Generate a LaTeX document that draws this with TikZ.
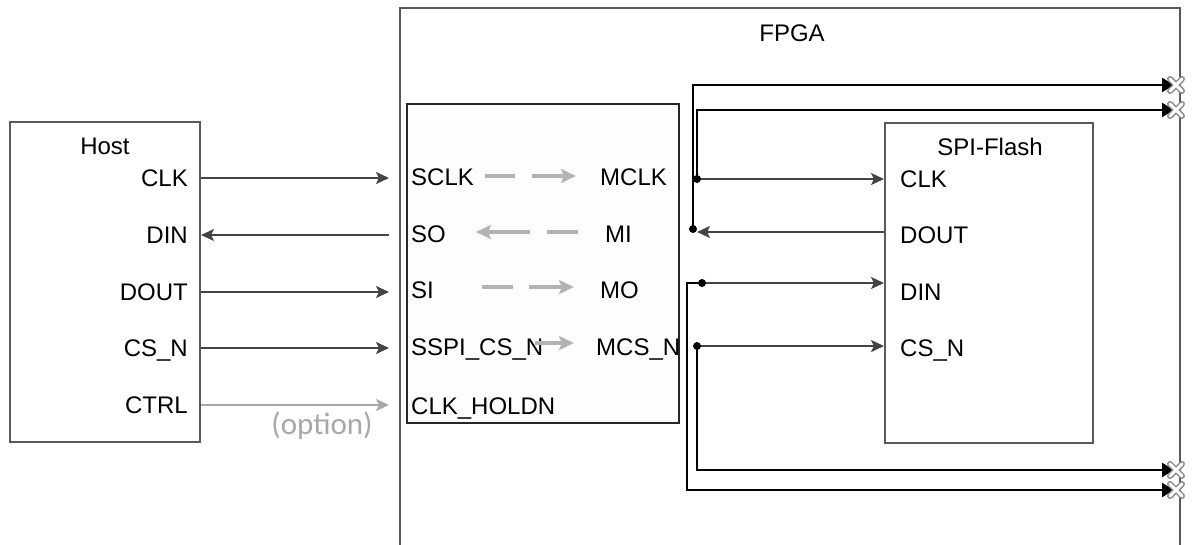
\documentclass[tikz,border=0pt]{standalone}
\usepackage{fontspec}
\setmainfont{Liberation Sans}
\newfontfamily\optfont{Carlito}
\usetikzlibrary{arrows.meta}
\definecolor{boxgray}{HTML}{5A5A5A}
\definecolor{wiregray}{HTML}{444444}
\definecolor{lightarrow}{HTML}{B3B3B3}
\definecolor{ctrlgray}{HTML}{A8A8A8}
\definecolor{pingray}{HTML}{8C8C8C}
\definecolor{innerfill}{HTML}{FDFDFD}
\begin{document}
\begin{tikzpicture}[x=1pt,y=-1pt,
  font=\fontsize{24}{28}\selectfont,
  box/.style={draw=boxgray,line width=2pt,inner sep=0pt},
  lbl/.style={inner sep=0pt,text height=17pt,text depth=0pt},
  sig/.style={draw=wiregray,line width=2pt,-{Stealth[length=13pt,width=12pt,inset=3pt]}},
  ctrlsig/.style={draw=ctrlgray,line width=2pt,-{Stealth[length=13pt,width=12pt,inset=3pt]}},
  pinwire/.style={draw=black,line width=2.5pt,-{Triangle[length=12pt,width=14pt]}},
  gline/.style={draw=lightarrow,line width=4pt},
  garrow/.style={draw=lightarrow,line width=4pt,-{Stealth[length=15pt,width=14pt,inset=3pt]}},
  dot/.style={fill=black}
]
\clip (0,0) rectangle (1194,544);
\fill[white] (0,0) rectangle (1194,544);

% boxes
\node[box,minimum width=780pt,minimum height=600pt] (fpga) at (790,308) {};
\node[box,minimum width=190pt,minimum height=320pt] (host) at (105,282) {};
\node[box,draw=black!85,fill=innerfill,minimum width=272pt,minimum height=319pt] (bridge) at (543,263.5) {};
\node[box,minimum width=208pt,minimum height=320pt] (flash) at (989,283) {};

% titles
\node[lbl] (tfpga) at (792,33) {FPGA};
\node[lbl] (thost) at (105,146) {Host};
\node[lbl] (tflash) at (990,147) {SPI-Flash};

% host labels
\node[lbl,anchor=east] (hclk) at (188,178) {CLK};
\node[lbl,anchor=east] (hdin) at (188,235) {DIN};
\node[lbl,anchor=east] (hdout) at (188,292) {DOUT};
\node[lbl,anchor=east] (hcs) at (188,348) {CS\_N};
\node[lbl,anchor=east] (hctrl) at (188,405) {CTRL};

% bridge labels
\node[lbl,anchor=west] (bsclk) at (411,177) {SCLK};
\node[lbl,anchor=west] (bso) at (411,234) {SO};
\node[lbl,anchor=west] (bsi) at (411,290) {SI};
\node[lbl,anchor=west] (bscs) at (411,347) {SSPI\_CS\_N};
\node[lbl,anchor=west] (bhold) at (411,406) {CLK\_HOLDN};
\node[lbl,anchor=west] (bmclk) at (600,177) {MCLK};
\node[lbl,anchor=west] (bmi) at (605,234) {MI};
\node[lbl,anchor=west] (bmo) at (600,290) {MO};
\node[lbl,anchor=west] (bmcs) at (596,347) {MCS\_N};

% flash labels
\node[lbl,anchor=west] (fclk) at (900,179) {CLK};
\node[lbl,anchor=west] (fdout) at (900,235) {DOUT};
\node[lbl,anchor=west] (fdin) at (900,292) {DIN};
\node[lbl,anchor=west] (fcs) at (900,348) {CS\_N};

% host <-> fpga
\coordinate (e1) at (389,178);
\coordinate (e2) at (389,235);
\coordinate (e3) at (389,292);
\coordinate (e4) at (389,348);
\coordinate (e5) at (389,405);
\draw[sig] (host.east |- hclk) -- (e1);
\draw[sig] (e2) -- (host.east |- hdin);
\draw[sig] (host.east |- hdout) -- (e3);
\draw[sig] (host.east |- hcs) -- (e4);
\draw[ctrlsig] (host.east |- hctrl) -- (e5);
\node[font=\optfont\fontsize{31}{35}\selectfont,text=ctrlgray,inner sep=0pt] (opt) at (322,426) {(option)};

% internal dashed arrows
\draw[gline] (485,176) -- (515,176);
\draw[garrow] (532,176) -- (576,176);
\draw[gline] (578,232) -- (547,232);
\draw[garrow] (530,232) -- (476,232);
\draw[gline] (482,287) -- (513,287);
\draw[garrow] (529,287) -- (574,287);
\draw[garrow] (535,343) -- (574,343);

% junctions
\coordinate (jc) at (697,179);
\coordinate (jd) at (693,229);
\coordinate (jdin) at (702,283);
\coordinate (cdin) at (687,283);
\coordinate (jcs) at (697,346);
\coordinate (dtip) at (697,232);

% pins
\coordinate (p1) at (1174,85);
\coordinate (p2) at (1174,110);
\coordinate (p3) at (1174,470);
\coordinate (p4) at (1174,490);

% flash connections
\draw[sig] (jc) -- (flash.west |- jc);
\draw[sig] (flash.west |- dtip) -- (dtip);
\draw[sig] (jdin) -- (flash.west |- jdin);
\draw[sig] (jcs) -- (flash.west |- jcs);

% pin wires
\draw[pinwire] (jd) -- (jd |- p1) -- (p1);
\draw[pinwire] (jc) -- (jc |- p2) -- (p2);
\draw[pinwire] (jcs) -- (jcs |- p3) -- (p3);
\draw[pinwire] (jdin) -- (cdin) -- (cdin |- p4) -- (p4);

\foreach \j in {jc,jd,jdin,jcs} \fill[dot] (\j) circle (4pt);

% pin crosses
\foreach \p in {p1,p2,p3,p4} {
  \draw[pingray,line width=6pt,line cap=round] ([xshift=2pt]\p) ++(-6,-6) -- ++(12,12) ++(0,-12) -- ++(-12,12);
  \draw[white,line width=3pt,line cap=round] ([xshift=2pt]\p) ++(-6,-6) -- ++(12,12) ++(0,-12) -- ++(-12,12);
}
\end{tikzpicture}
\end{document}
